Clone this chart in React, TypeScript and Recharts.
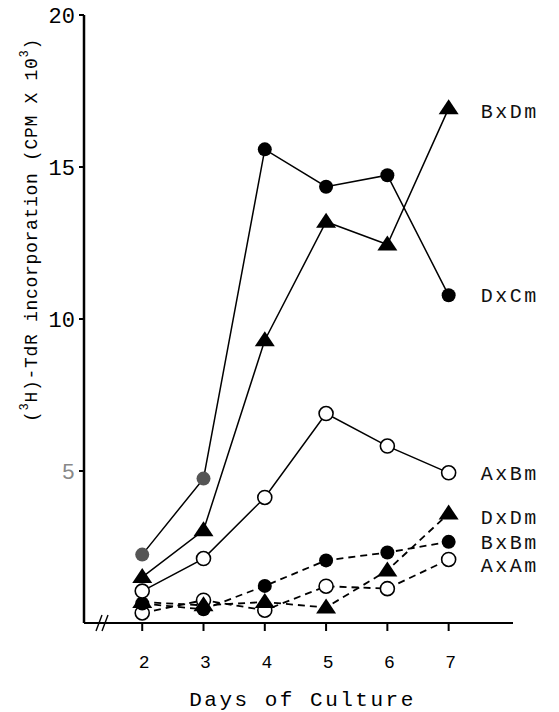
import { LineChart, Line, XAxis, YAxis, LabelList, Label } from "recharts";

const days = [2, 3, 4, 5, 6, 7];
const yTicks = [5, 10, 15, 20];

// values in CPM x 10^3
const dxCm = [2.25, 4.75, 15.58, 14.35, 14.73, 10.78];
const bxDm = [1.51, 3.05, 9.3, 13.2, 12.45, 16.93];
const axBm = [1.05, 2.12, 4.13, 6.89, 5.82, 4.94];
const dxDm = [0.69, 0.58, 0.69, 0.51, 1.73, 3.6];
const bxBm = [0.64, 0.45, 1.22, 2.06, 2.32, 2.67];
const axAm = [0.33, 0.75, 0.42, 1.21, 1.13, 2.09];

const data = days.map((d, i) => ({
  day: d,
  dxCm: dxCm[i],
  bxDm: bxDm[i],
  axBm: axBm[i],
  dxDm: dxDm[i],
  bxBm: bxBm[i],
  axAm: axAm[i],
}));

const FONT = "'Liberation Mono', 'DejaVu Sans Mono', monospace";

const filledCircle = (props: any) => {
  const { cx, cy, index } = props;
  return <circle key={index} cx={cx} cy={cy} r={7} fill="#000" stroke="none" />;
};

// first two points of DxCm are printed as a grey, smudged dot
const greyCircle = (props: any) => {
  const { cx, cy, index } = props;
  const fill = index < 2 ? "#555" : "#000";
  return <circle key={index} cx={cx} cy={cy} r={7} fill={fill} stroke="none" />;
};

const openCircle = (props: any) => {
  const { cx, cy, index } = props;
  return <circle key={index} cx={cx} cy={cy} r={7} fill="#fff" stroke="#000" strokeWidth={1.6} />;
};

const triangle = (props: any) => {
  const { cx, cy, index } = props;
  const pts = `${cx},${cy - 9} ${cx - 10},${cy + 6} ${cx + 10},${cy + 6}`;
  return <polygon key={index} points={pts} fill="#000" stroke="none" />;
};

const seriesName = (name: string, dy: number) => (props: any) => {
  const { x, y, index } = props;
  if (index !== days.length - 1) return null;
  return (
    <text
      x={x + 32}
      y={y + dy}
      dy="0.35em"
      fontFamily={FONT}
      fontSize={20}
      letterSpacing={2.5}
      fill="#111"
    >
      {name}
    </text>
  );
};

const yTick = (props: any) => {
  const { x, y, payload } = props;
  return (
    <text
      x={x}
      y={y}
      dy="0.35em"
      textAnchor="end"
      fontFamily={FONT}
      fontSize={22}
      fill={payload.value === 5 ? "#888" : "#000"}
    >
      {payload.value}
    </text>
  );
};

const xTick = (props: any) => {
  const { x, y, payload } = props;
  return (
    <text x={x + 2} y={y} dy="0.71em" textAnchor="middle" fontFamily={FONT} fontSize={18} fill="#000">
      {payload.value}
    </text>
  );
};

const yLabel = () => (
  <text
    transform="translate(32, 230) rotate(-90)"
    textAnchor="middle"
    dominantBaseline="middle"
    fontFamily={FONT}
    fontSize={18}
    letterSpacing={0.7}
    fill="#000"
  >
    (<tspan fontSize={12} baselineShift="super">3</tspan>H)-TdR incorporation (CPM X 10
    <tspan fontSize={12} baselineShift="super">3</tspan>)
  </text>
);

// axis break mark near the origin
const axisBreak = (props: any) => {
  const { viewBox } = props;
  const x0 = viewBox.x + 18;
  const y0 = viewBox.y;
  return (
    <g stroke="#000" strokeWidth={1.4} fill="none">
      <path d={`M${x0 - 6},${y0 + 8} L${x0},${y0 - 8}`} />
      <path d={`M${x0},${y0 + 8} L${x0 + 6},${y0 - 8}`} />
    </g>
  );
};

export default function App() {
  return (
    <div style={{ position: "absolute", left: 0, top: 0, background: "#fff" }}>
      <LineChart width={559} height={712} data={data} margin={{ top: 15, right: 46, bottom: 0, left: 0 }}>
        <XAxis
          type="number"
          dataKey="day"
          domain={[1.05, 8.05]}
          ticks={days}
          allowDataOverflow
          height={89}
          axisLine={{ stroke: "#000", strokeWidth: 2 }}
          tickLine={{ stroke: "#000", strokeWidth: 2 }}
          tickSize={8}
          tickMargin={24}
          tick={xTick}
        >
          <Label
            value="Days of Culture"
            position="insideBottom"
            offset={6}
            dx={4}
            style={{ fontFamily: FONT, fontSize: 21, letterSpacing: 2.5, fill: "#000" }}
          />
          <Label content={axisBreak} />
        </XAxis>
        <YAxis
          type="number"
          domain={[0, 20]}
          ticks={yTicks}
          width={84}
          axisLine={{ stroke: "#000", strokeWidth: 2.5 }}
          tickLine={{ stroke: "#000", strokeWidth: 2 }}
          tickSize={5}
          tickMargin={4}
          tick={yTick}
        >
          <Label content={yLabel} />
        </YAxis>

        <Line dataKey="axAm" stroke="#000" strokeWidth={1.8} strokeDasharray="7 5" dot={openCircle} isAnimationActive={false}>
          <LabelList dataKey="axAm" content={seriesName("AxAm", 6)} />
        </Line>
        <Line dataKey="dxDm" stroke="#000" strokeWidth={1.8} strokeDasharray="7 5" dot={triangle} isAnimationActive={false}>
          <LabelList dataKey="dxDm" content={seriesName("DxDm", 3)} />
        </Line>
        <Line dataKey="bxBm" stroke="#000" strokeWidth={1.8} strokeDasharray="7 5" dot={filledCircle} isAnimationActive={false}>
          <LabelList dataKey="bxBm" content={seriesName("BxBm", 0)} />
        </Line>
        <Line dataKey="axBm" stroke="#000" strokeWidth={1.5} dot={openCircle} isAnimationActive={false}>
          <LabelList dataKey="axBm" content={seriesName("AxBm", 0)} />
        </Line>
        <Line dataKey="bxDm" stroke="#000" strokeWidth={1.5} dot={triangle} isAnimationActive={false}>
          <LabelList dataKey="bxDm" content={seriesName("BxDm", 3)} />
        </Line>
        <Line dataKey="dxCm" stroke="#000" strokeWidth={1.5} dot={greyCircle} isAnimationActive={false}>
          <LabelList dataKey="dxCm" content={seriesName("DxCm", 0)} />
        </Line>
      </LineChart>
    </div>
  );
}
